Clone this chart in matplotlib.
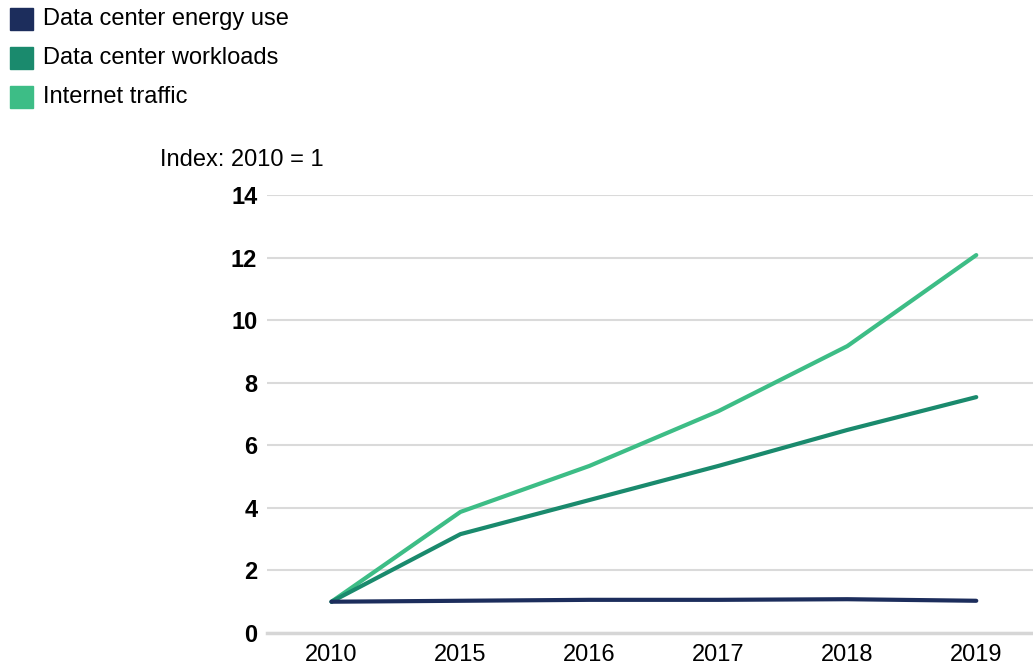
import matplotlib.pyplot as plt
from matplotlib.patches import Rectangle

# Data
years = ['2010', '2015', '2016', '2017', '2018', '2019']
energy_use = [1.0, 1.03, 1.06, 1.06, 1.08, 1.03]
workloads = [1.0, 3.16, 4.25, 5.34, 6.49, 7.54]
internet_traffic = [1.0, 3.87, 5.34, 7.09, 9.17, 12.08]

series_names = ['Data center energy use', 'Data center workloads', 'Internet traffic']
colors = ['#1c2d5c', '#1a8a6d', '#3dbd86']

plt.rcParams['font.family'] = ['Liberation Sans', 'DejaVu Sans']

fig = plt.figure(figsize=(10.33, 6.69), dpi=100)
ax = fig.add_axes([267 / 1033, 1 - 633 / 669, 1 - 267 / 1033, (633 - 195) / 669])

x = range(len(years))
ax.plot(x, internet_traffic, color=colors[2], lw=3, solid_capstyle='round', clip_on=False, zorder=3)
ax.plot(x, workloads, color=colors[1], lw=3, solid_capstyle='round', clip_on=False, zorder=3)
ax.plot(x, energy_use, color=colors[0], lw=3, solid_capstyle='round', clip_on=False, zorder=4)

ax.set_xlim(-0.5, 5.44)
ax.set_ylim(0, 14)
ax.set_yticks(range(0, 15, 2))
ax.set_xticks(list(x))
ax.set_xticklabels(years)
for lbl in ax.get_yticklabels():
    lbl.set_fontweight('bold')
ax.tick_params(axis='y', length=0, pad=7, labelsize=17)
ax.tick_params(axis='x', length=0, pad=8, labelsize=17)

for s in ax.spines.values():
    s.set_visible(False)
ax.grid(axis='y', color='#dadada', lw=1.5)
ax.set_axisbelow(True)
ax.axhline(0, color='#d6d6d6', lw=2.5, zorder=1, clip_on=False)

fig.text(160 / 1033, 1 - 160 / 669, 'Index: 2010 = 1', fontsize=17, va='center', ha='left')

# Legend
for i, (name, c) in enumerate(zip(series_names, colors)):
    yc = 19 + 39 * i
    fig.patches.append(Rectangle((10 / 1033, 1 - (yc + 11) / 669), 23 / 1033, 22 / 669,
                                 transform=fig.transFigure, color=c))
    fig.text(43 / 1033, 1 - yc / 669, name, fontsize=17, va='center', ha='left')

fig.savefig('out.png', dpi=100)
